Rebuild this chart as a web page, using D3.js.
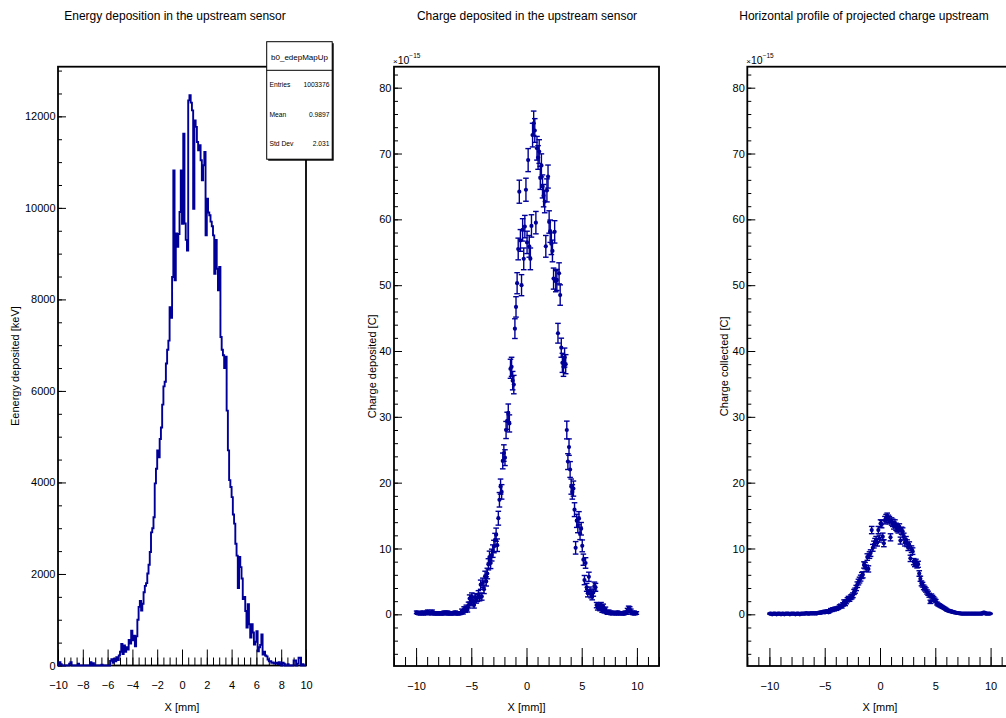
<!DOCTYPE html>
<html>
<head>
<meta charset="utf-8">
<script src="https://cdn.jsdelivr.net/npm/d3@7"></script>
<style>
body{margin:0;background:#fff;}
svg text{font-family:"Liberation Sans",Arial,Helvetica,sans-serif;fill:#000;}
</style>
</head>
<body>
<div id="chart"></div>
<script>
var WIDTH=1006,
	HEIGHT=718,
	FONT='"Liberation Sans",Arial,Helvetica,sans-serif',
	BLUE="#000099";

// histogram binning (TH1: 200 bins from -10 to 10 mm)
var edepRange=[-10,10],
	edepNBins=200;

// energy deposited per bin [keV]
var edepValues=[
	0,70,30,0,0,0,0,0,0,40,
	70,0,0,0,0,0,40,0,0,0,
	0,0,0,0,0,0,70,0,50,0,
	0,0,0,0,0,20,0,0,0,0,
	0,0,100,140,60,150,90,180,120,220,
	300,470,250,440,300,400,350,560,480,760,
	550,650,420,640,1000,1280,1410,1200,1350,1600,
	1740,1800,2010,2200,2480,2910,3000,3240,3980,4300,
	4700,4550,4950,5200,5700,6100,6200,6600,6900,7100,
	7830,7600,8490,10820,8420,9440,9150,9430,9910,10820,
	9650,11620,9660,9300,9070,12350,12460,12300,12130,9980,
	11910,11770,11440,11260,11370,11040,10600,10930,11220,9400,
	10200,9900,9840,9700,9600,9400,8560,9300,8670,8200,
	8710,7180,6900,6780,6500,6750,5570,4700,4050,3900,
	3680,3300,3100,2660,2400,1690,2370,2150,1900,1450,
	1500,1190,830,1340,900,610,900,720,460,520,
	750,310,400,450,680,240,300,220,200,130,
	90,95,60,66,40,50,60,30,70,30,
	0,60,40,0,0,30,0,0,0,0,
	110,110,0,40,170,170,0,30,0,0
];

var edepStats=[
	["Entries","1003376"],
	["Mean","0.9897"],
	["Std Dev","2.031"]
];

// profiles: 200 points, bin centres -9.95 .. 9.95 mm, values in units of 1e-15 C
var profRange=[-10,10],
	profNBins=200;

var chargeValues=[
	0.3,0.2,0.1,0.2,0.1,0.3,0.1,0.2,0.1,0.3,
	0.4,0.2,0.1,0.2,0.4,0.1,0.2,0.1,0.1,0.2,
	0.1,0.1,0.2,0.1,0.1,0.3,0.2,0.1,0.3,0.1,
	0.1,0.2,0.1,0.1,0.2,0.3,0.1,0.1,0.2,0.1,
	0.2,0.5,0.3,0.8,0.6,1.0,0.7,1.4,2.4,1.8,
	2.7,2.0,1.4,2.6,2.2,2.5,3.0,2.6,4.5,2.7,
	4.8,3.8,5.8,5.0,6.2,7.6,8.7,7.8,9.0,9.6,
	10.3,11.3,12.1,10.5,14.6,17.4,19.4,18.6,23.3,24.5,
	23.8,28.0,29.4,30.6,29.0,37.3,37.6,35.5,34.9,43.4,
	46.7,50.3,55.5,64.2,56.8,50.0,58.4,54.0,58.9,64.5,
	56.5,69.0,55.9,54.0,59.0,72.8,74.6,73.5,59.5,70.8,
	69.4,70.3,66.3,68.2,65.0,63.6,62.7,55.9,64.4,66.5,
	59.6,58.2,56.3,55.2,51.0,58.1,50.6,50.8,42.7,51.8,
	48.5,40.5,38.2,37.6,39.0,38.0,28.0,23.2,25.4,22.0,
	19.4,18.6,19.1,15.9,10.1,14.2,13.4,14.6,12.3,13.0,
	10.4,8.3,5.2,7.8,4.1,3.2,5.7,3.6,3.0,2.7,
	3.3,4.3,4.1,1.4,1.0,1.3,0.9,1.4,0.6,1.2,
	0.5,0.8,0.3,0.2,0.4,0.2,0.1,0.3,0.2,0.1,
	0.2,0.1,0.3,0.1,0.2,0.1,0.2,0.1,0.1,0.3,
	0.2,0.6,0.9,0.8,0.5,0.2,0.1,0.3,0.1,0.2
];

var chargeErrors=[
	0.2,0.2,0.15,0.2,0.15,0.2,0.15,0.2,0.15,0.2,
	0.25,0.2,0.15,0.2,0.25,0.15,0.2,0.15,0.15,0.2,
	0.15,0.15,0.2,0.15,0.15,0.2,0.2,0.15,0.2,0.15,
	0.15,0.2,0.15,0.15,0.2,0.2,0.15,0.15,0.2,0.15,
	0.2,0.3,0.25,0.35,0.3,0.4,0.35,0.45,0.55,0.5,
	0.55,0.5,0.45,0.55,0.5,0.55,0.6,0.55,0.7,0.55,
	0.7,0.65,0.75,0.7,0.8,0.85,0.9,0.85,0.9,0.95,
	0.95,1.0,1.0,0.95,1.05,1.1,1.15,1.1,1.2,1.25,
	1.2,1.3,1.3,1.35,1.3,1.45,1.45,1.4,1.4,1.5,
	1.55,1.6,1.65,1.75,1.65,1.6,1.7,1.65,1.7,1.75,
	1.7,1.75,1.65,1.65,1.7,1.8,1.85,1.8,1.7,1.8,
	1.8,1.8,1.75,1.75,1.75,1.7,1.7,1.65,1.75,1.75,
	1.7,1.7,1.65,1.65,1.6,1.7,1.6,1.6,1.5,1.6,
	1.55,1.45,1.45,1.45,1.45,1.45,1.35,1.2,1.25,1.2,
	1.15,1.1,1.15,1.05,0.95,1.0,1.0,1.0,0.95,0.95,
	0.9,0.85,0.7,0.8,0.6,0.55,0.7,0.55,0.5,0.5,
	0.55,0.6,0.6,0.4,0.35,0.4,0.35,0.4,0.3,0.35,
	0.3,0.3,0.2,0.2,0.25,0.2,0.15,0.2,0.2,0.15,
	0.2,0.15,0.2,0.15,0.2,0.15,0.2,0.15,0.15,0.2,
	0.2,0.3,0.35,0.35,0.3,0.2,0.15,0.2,0.15,0.2
];

var collectedValues=[
	0.1,0.1,0.0,0.1,0.1,0.1,0.0,0.1,0.1,0.1,
	0.0,0.1,0.1,0.0,0.1,0.1,0.1,0.1,0.0,0.1,
	0.1,0.1,0.1,0.0,0.1,0.1,0.1,0.0,0.1,0.1,
	0.1,0.1,0.1,0.2,0.1,0.1,0.1,0.2,0.1,0.2,
	0.1,0.2,0.1,0.2,0.2,0.3,0.2,0.3,0.4,0.3,
	0.3,0.5,0.4,0.3,0.5,0.7,0.6,0.8,0.7,0.9,
	0.8,0.9,1.0,1.2,1.3,1.2,1.5,1.9,1.6,1.9,
	2.2,2.4,2.3,2.6,2.7,2.9,3.4,3.6,4.0,4.5,
	4.9,5.2,5.5,5.9,6.0,7.5,7.4,7.0,8.7,6.9,
	9.0,9.3,12.8,10.1,10.6,11.0,11.3,10.9,12.8,11.5,
	13.8,13.7,11.8,10.8,14.3,14.6,14.8,14.5,14.3,11.7,
	14.1,13.9,13.5,13.8,13.3,13.1,12.9,13.2,11.2,12.7,
	12.6,11.8,10.9,11.3,10.8,10.2,10.5,8.5,9.9,9.6,
	8.0,7.7,7.9,7.5,7.6,6.2,5.4,4.7,4.5,4.1,
	3.9,3.7,3.4,3.2,2.9,1.9,2.8,2.6,2.4,2.2,
	2.0,1.65,1.5,1.4,1.3,1.2,1.1,1.0,0.9,0.8,
	0.65,0.6,0.5,0.5,0.4,0.4,0.3,0.3,0.25,0.2,
	0.2,0.15,0.15,0.1,0.1,0.1,0.1,0.1,0.1,0.1,
	0.1,0.1,0.1,0.1,0.1,0.1,0.1,0.1,0.1,0.1,
	0.1,0.1,0.1,0.25,0.25,0.1,0.1,0.1,0.1,0.1
];

var collectedErrors=[
	0.08,0.08,0.06,0.08,0.08,0.08,0.06,0.08,0.08,0.08,
	0.06,0.08,0.08,0.06,0.08,0.08,0.08,0.08,0.06,0.08,
	0.08,0.08,0.08,0.06,0.08,0.08,0.08,0.06,0.08,0.08,
	0.08,0.08,0.08,0.1,0.08,0.08,0.08,0.1,0.08,0.1,
	0.08,0.1,0.08,0.1,0.1,0.12,0.1,0.12,0.14,0.12,
	0.12,0.15,0.14,0.12,0.15,0.18,0.17,0.2,0.18,0.2,
	0.2,0.2,0.22,0.24,0.25,0.24,0.27,0.3,0.28,0.3,
	0.32,0.33,0.32,0.34,0.35,0.36,0.38,0.39,0.4,0.42,
	0.43,0.44,0.45,0.46,0.46,0.48,0.48,0.47,0.5,0.47,
	0.5,0.5,0.55,0.52,0.52,0.53,0.53,0.53,0.55,0.53,
	0.56,0.56,0.54,0.53,0.57,0.57,0.58,0.57,0.57,0.54,
	0.56,0.56,0.55,0.56,0.55,0.55,0.55,0.55,0.53,0.55,
	0.54,0.53,0.52,0.52,0.52,0.51,0.51,0.48,0.5,0.5,
	0.47,0.46,0.47,0.46,0.46,0.42,0.39,0.37,0.36,0.35,
	0.34,0.33,0.32,0.31,0.3,0.25,0.29,0.28,0.27,0.26,
	0.25,0.22,0.21,0.2,0.2,0.19,0.18,0.17,0.16,0.15,
	0.14,0.13,0.12,0.12,0.11,0.11,0.1,0.1,0.09,0.08,
	0.08,0.07,0.07,0.06,0.06,0.06,0.06,0.06,0.06,0.06,
	0.06,0.06,0.06,0.06,0.06,0.06,0.06,0.06,0.06,0.06,
	0.06,0.06,0.06,0.09,0.09,0.06,0.06,0.06,0.06,0.06
];

// axis ticks
var edepXTicks=[-10,-8,-6,-4,-2,0,2,4,6,8,10],
	edepYTicks=[0,2000,4000,6000,8000,10000,12000],
	profXTicks=[-10,-5,0,5,10],
	profYTicks=[0,10,20,30,40,50,60,70,80];

var svg=d3.select("#chart")
			.append("svg")
				.attr("width",WIDTH)
				.attr("height",HEIGHT)
				.style("background","#fff");

function binCentres(range,n){
	var w=(range[1]-range[0])/n;
	return d3.range(n).map(function(i){ return range[0]+w*(i+0.5); });
}

function frame(o){
	var x=d3.scaleLinear().domain(o.xDomain).range([o.left,o.right]),
		y=d3.scaleLinear().domain(o.yDomain).range([o.bottom,o.top]);

	var g=svg.append("g");

	// minor + major ticks on x, pointing inward
	g.append("g")
		.attr("transform","translate(0,"+o.bottom+")")
		.call(d3.axisBottom(x).tickValues(o.xMinor).tickSize(-o.xMinorLen).tickFormat(""))
		.call(function(a){ a.select(".domain").remove(); });
	g.append("g")
		.attr("transform","translate(0,"+o.bottom+")")
		.call(d3.axisBottom(x).tickValues(o.xTicks).tickSize(-o.xMajorLen).tickPadding(16))
		.attr("font-family",FONT).attr("font-size",11)
		.call(function(a){ a.select(".domain").remove(); });

	g.append("g")
		.attr("transform","translate("+o.left+",0)")
		.call(d3.axisLeft(y).tickValues(o.yMinor).tickSize(-4).tickFormat(""))
		.call(function(a){ a.select(".domain").remove(); });
	g.append("g")
		.attr("transform","translate("+o.left+",0)")
		.call(d3.axisLeft(y).tickValues(o.yTicks).tickSize(-8).tickPadding(2.5).tickFormat(d3.format("d")))
		.attr("font-family",FONT).attr("font-size",11)
		.call(function(a){ a.select(".domain").remove(); });

	g.append("rect")
		.attr("x",o.left).attr("y",o.top)
		.attr("width",o.right-o.left).attr("height",o.bottom-o.top)
		.attr("fill","none").attr("stroke","#000").attr("stroke-width",1.8);

	svg.append("text")
		.attr("x",o.titleX).attr("y",19.5)
		.attr("text-anchor","middle").attr("font-size",12)
		.text(o.title);

	svg.append("text")
		.attr("x",(o.left+o.right)/2).attr("y",711)
		.attr("text-anchor","middle").attr("font-size",11)
		.text(o.xTitle);

	svg.append("text")
		.attr("transform","translate("+o.yTitleX+","+((o.top+o.bottom)/2)+") rotate(-90)")
		.attr("text-anchor","middle").attr("font-size",11)
		.text(o.yTitle);

	if(o.exponent){
		var t=svg.append("text").attr("x",o.left-1).attr("y",64);
		t.append("tspan").attr("font-size",8).text("\u00d7");
		t.append("tspan").attr("font-size",10.5).text("10");
		t.append("tspan").attr("font-size",6.5).attr("dy",-6).text("\u221215");
	}

	return {x:x,y:y,g:g};
}

function drawHist(p,range,n,values){
	var w=(range[1]-range[0])/n;
	var pts=[{x:range[0],v:0}];
	values.forEach(function(v,i){ pts.push({x:range[0]+w*i,v:v}); });
	pts.push({x:range[1],v:values[n-1]});
	pts.push({x:range[1],v:0});

	var line=d3.line()
		.x(function(d){ return p.x(d.x); })
		.y(function(d){ return p.y(d.v); })
		.curve(d3.curveStepAfter);

	p.g.append("path")
		.datum(pts)
		.attr("d",line)
		.attr("fill","none")
		.attr("stroke",BLUE)
		.attr("stroke-width",1.9);
}

function drawProfile(p,range,n,values,errors){
	var xs=binCentres(range,n);
	var data=xs.map(function(x,i){ return {x:x,v:values[i],e:errors[i]}; });
	var cap=2.8;

	var pts=p.g.append("g")
				.attr("stroke",BLUE)
				.attr("fill",BLUE)
				.selectAll("g")
				.data(data)
				.enter()
					.append("g");

	pts.append("line")
		.attr("x1",function(d){ return p.x(d.x); })
		.attr("x2",function(d){ return p.x(d.x); })
		.attr("y1",function(d){ return p.y(d.v-d.e); })
		.attr("y2",function(d){ return p.y(d.v+d.e); })
		.attr("stroke-width",1.4);

	pts.selectAll("line.cap")
		.data(function(d){ return [{x:d.x,v:d.v-d.e},{x:d.x,v:d.v+d.e}]; })
		.enter()
			.append("line")
				.attr("class","cap")
				.attr("x1",function(d){ return p.x(d.x)-cap; })
				.attr("x2",function(d){ return p.x(d.x)+cap; })
				.attr("y1",function(d){ return p.y(d.v); })
				.attr("y2",function(d){ return p.y(d.v); })
				.attr("stroke-width",1.4);

	pts.append("circle")
		.attr("cx",function(d){ return p.x(d.x); })
		.attr("cy",function(d){ return p.y(d.v); })
		.attr("r",2.1)
		.attr("stroke","none");
}

// ---- left: energy deposition histogram
var p1=frame({
	left:58, right:306, top:66.7, bottom:665.5,
	xDomain:edepRange, yDomain:[0,13085],
	xTicks:edepXTicks, xMinor:d3.range(-10,10.01,0.5),
	xMajorLen:16, xMinorLen:8,
	yTicks:edepYTicks, yMinor:d3.range(0,13001,500),
	title:"Energy deposition in the upstream sensor", titleX:175,
	xTitle:"X [mm]",
	yTitle:"Eenergy deposited [keV]", yTitleX:19
});
drawHist(p1,edepRange,edepNBins,edepValues);

// stats box
var sb=svg.append("g");
sb.append("rect").attr("x",268.2).attr("y",43.2).attr("width",65.5).attr("height",117.5).attr("fill","#000");
sb.append("rect").attr("x",266.7).attr("y",41.7).attr("width",65.5).attr("height",117.5)
	.attr("fill","#fff").attr("stroke","#000").attr("stroke-width",1);
sb.append("line").attr("x1",266.7).attr("x2",332.2).attr("y1",70.3).attr("y2",70.3)
	.attr("stroke","#000").attr("stroke-width",1);
sb.append("text").attr("x",299.5).attr("y",59.8).attr("text-anchor","middle")
	.attr("font-size",8).text("b0_edepMapUp");
sb.selectAll("text.row")
	.data(edepStats)
	.enter()
		.append("text")
			.attr("class","row")
			.attr("x",269.5)
			.attr("y",function(d,i){ return 87.4+i*29.2; })
			.attr("font-size",6.7)
			.text(function(d){ return d[0]; });
sb.selectAll("text.val")
	.data(edepStats)
	.enter()
		.append("text")
			.attr("class","val")
			.attr("x",329.5)
			.attr("y",function(d,i){ return 87.4+i*29.2; })
			.attr("text-anchor","end")
			.attr("font-size",6.7)
			.text(function(d){ return d[1]; });

// ---- middle: charge deposited
var p2=frame({
	left:394, right:659, top:66.7, bottom:666,
	xDomain:[-12,12], yDomain:[-7.85,83.19],
	xTicks:profXTicks, xMinor:d3.range(-12,12.01,1),
	xMajorLen:18, xMinorLen:9,
	yTicks:profYTicks, yMinor:d3.range(-6,82.1,2),
	title:"Charge deposited in the upstream sensor", titleX:527,
	xTitle:"X [mm]]",
	yTitle:"Charge deposited [C]", yTitleX:376,
	exponent:true
});
drawProfile(p2,profRange,profNBins,chargeValues,chargeErrors);

// ---- right: horizontal profile of collected charge
var p3=frame({
	left:747.3, right:1012.7, top:66.7, bottom:666,
	xDomain:[-12,12], yDomain:[-7.85,83.19],
	xTicks:profXTicks, xMinor:d3.range(-12,12.01,1),
	xMajorLen:18, xMinorLen:9,
	yTicks:profYTicks, yMinor:d3.range(-6,82.1,2),
	title:"Horizontal profile of projected charge upstream", titleX:864,
	xTitle:"X [mm]",
	yTitle:"Charge collected [C]", yTitleX:728,
	exponent:true
});
drawProfile(p3,profRange,profNBins,collectedValues,collectedErrors);
</script>
</body>
</html>
